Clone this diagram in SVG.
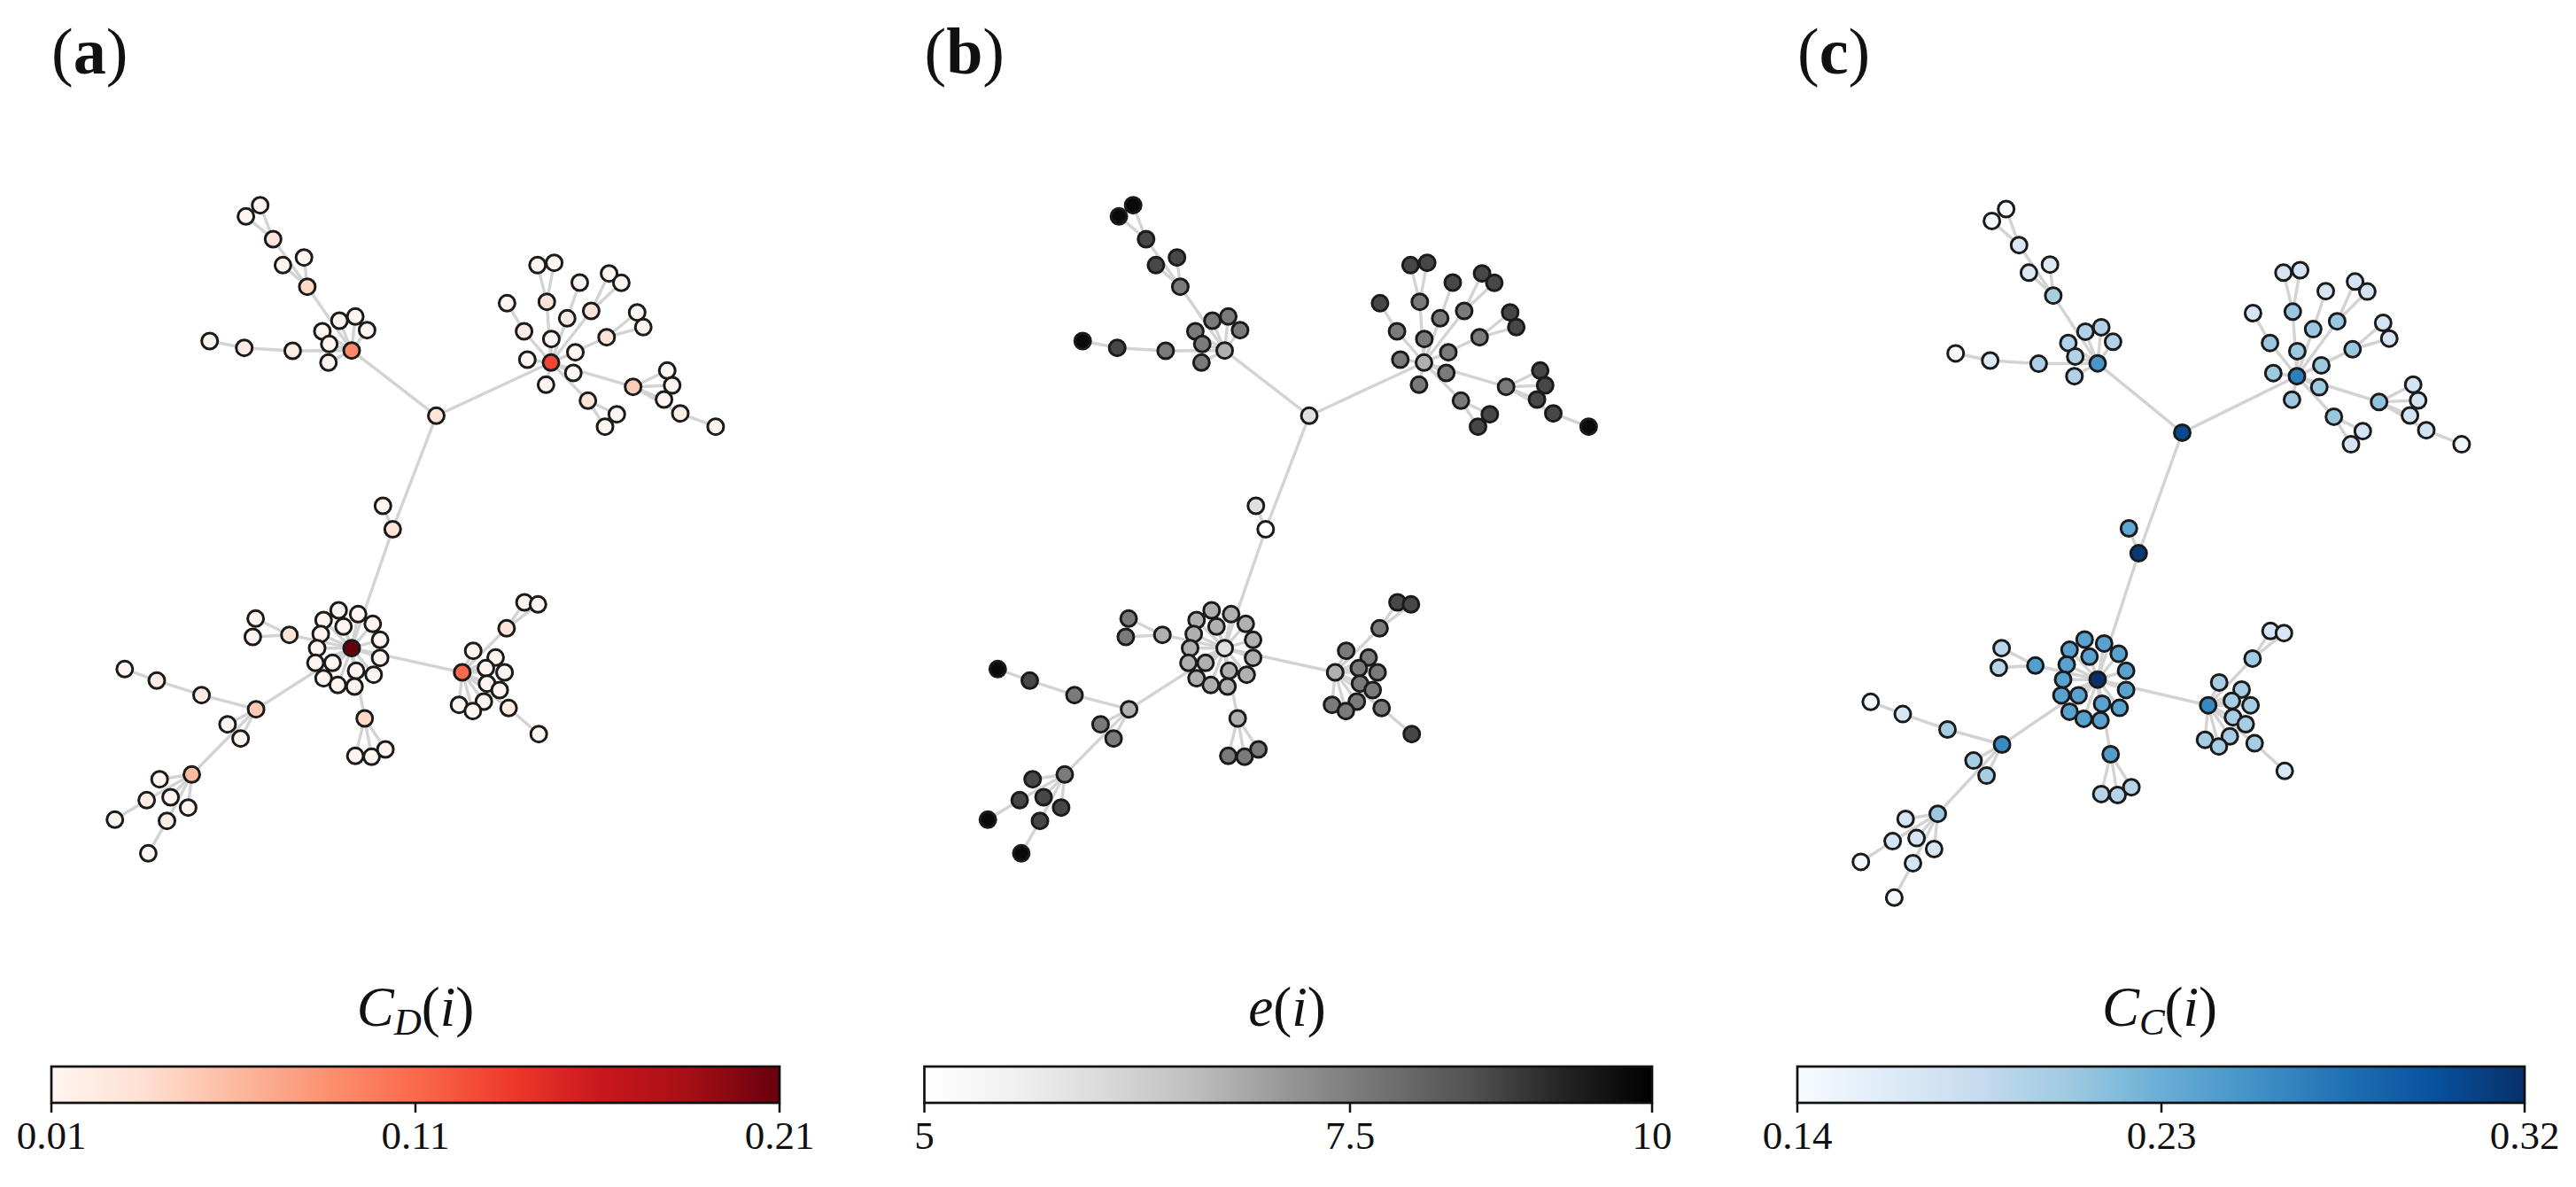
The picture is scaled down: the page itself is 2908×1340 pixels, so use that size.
<svg xmlns="http://www.w3.org/2000/svg" xmlns:xlink="http://www.w3.org/1999/xlink" width="2908" height="1340" viewBox="0 0 2908 1340">
<style>
.e line{stroke:#d3d3d3;stroke-width:3.4;stroke-linecap:round}
.nodes circle{stroke:#1a1a1a;stroke-width:3}
.t{font-family:"Liberation Serif","DejaVu Serif",serif;font-size:74px;fill:#111}
.lab{font-family:"Liberation Serif","DejaVu Serif",serif;font-size:63px;fill:#111}
.tk{font-family:"Liberation Serif","DejaVu Serif",serif;font-size:45px;fill:#111;text-anchor:middle}
.cb{stroke:#111;stroke-width:2.7}
.tick{stroke:#111;stroke-width:2.5;fill:none}
.r1{fill:#fff5f0}.r2{fill:#feede4}.r3{fill:#fee4d8}.r4{fill:#fed9c8}.r5{fill:#fdcab5}.r6{fill:#fcbba1}.r9{fill:#fc8a6a}.r11{fill:#fb6a4a}.r13{fill:#f14432}.r21{fill:#67000d}
.g5{fill:#ffffff}.g6{fill:#e0e0e0}.g7{fill:#b0b0b0}.g8{fill:#7a7a7a}.g9{fill:#474747}.g10{fill:#0a0a0a}
</style>
<defs>
<linearGradient id="gR" x1="0" y1="0" x2="1" y2="0">
<stop offset="0" stop-color="#fff5f0"/><stop offset=".125" stop-color="#fee0d2"/><stop offset=".25" stop-color="#fcbba1"/><stop offset=".375" stop-color="#fc9272"/><stop offset=".5" stop-color="#fb6a4a"/><stop offset=".625" stop-color="#ef3b2c"/><stop offset=".75" stop-color="#cb181d"/><stop offset=".875" stop-color="#a50f15"/><stop offset="1" stop-color="#67000d"/>
</linearGradient>
<linearGradient id="gG" x1="0" y1="0" x2="1" y2="0">
<stop offset="0" stop-color="#ffffff"/><stop offset=".125" stop-color="#f0f0f0"/><stop offset=".25" stop-color="#d9d9d9"/><stop offset=".375" stop-color="#bdbdbd"/><stop offset=".5" stop-color="#969696"/><stop offset=".625" stop-color="#737373"/><stop offset=".75" stop-color="#525252"/><stop offset=".875" stop-color="#252525"/><stop offset="1" stop-color="#000000"/>
</linearGradient>
<linearGradient id="gB" x1="0" y1="0" x2="1" y2="0">
<stop offset="0" stop-color="#f7fbff"/><stop offset=".125" stop-color="#deebf7"/><stop offset=".25" stop-color="#c6dbef"/><stop offset=".375" stop-color="#9ecae1"/><stop offset=".5" stop-color="#6baed6"/><stop offset=".625" stop-color="#4292c6"/><stop offset=".75" stop-color="#2171b5"/><stop offset=".875" stop-color="#08519c"/><stop offset="1" stop-color="#08306b"/>
</linearGradient>
</defs>
<rect width="2908" height="1340" fill="#ffffff"/>

<!-- connectors panel a -->
<g id="edges-a" class="e">
<line x1="443.3" y1="597.5" x2="492.5" y2="469.3"/>
<line x1="443.3" y1="597.5" x2="432.3" y2="571"/>
<line x1="443.3" y1="597.5" x2="397" y2="731.7"/>
<line x1="492.5" y1="469.3" x2="397" y2="395.7"/>
<line x1="492.5" y1="469.3" x2="622" y2="409.3"/>
<line x1="397" y1="395.7" x2="346.9" y2="323.7"/>
<line x1="397" y1="395.7" x2="383.2" y2="362"/>
<line x1="397" y1="395.7" x2="401.1" y2="357.3"/>
<line x1="397" y1="395.7" x2="414.4" y2="372.7"/>
<line x1="397" y1="395.7" x2="363.9" y2="374"/>
<line x1="397" y1="395.7" x2="371.7" y2="388.3"/>
<line x1="397" y1="395.7" x2="370.8" y2="409.3"/>
<line x1="397" y1="395.7" x2="330.4" y2="396"/>
<line x1="346.9" y1="323.7" x2="308.3" y2="270"/>
<line x1="346.9" y1="323.7" x2="343.2" y2="290.7"/>
<line x1="346.9" y1="323.7" x2="319.4" y2="299.3"/>
<line x1="308.3" y1="270" x2="293.7" y2="231.7"/>
<line x1="308.3" y1="270" x2="277.6" y2="244.3"/>
<line x1="330.4" y1="396" x2="275.7" y2="392.7"/>
<line x1="275.7" y1="392.7" x2="236.7" y2="385"/>
<line x1="622" y1="409.3" x2="591.6" y2="374"/>
<line x1="591.6" y1="374" x2="572.4" y2="342.3"/>
<line x1="622" y1="409.3" x2="617.3" y2="340.7"/>
<line x1="617.3" y1="340.7" x2="606.8" y2="299.3"/>
<line x1="617.3" y1="340.7" x2="625.6" y2="296.7"/>
<line x1="622" y1="409.3" x2="622.4" y2="382.7"/>
<line x1="622" y1="409.3" x2="640.3" y2="359.3"/>
<line x1="640.3" y1="359.3" x2="654.5" y2="319"/>
<line x1="622" y1="409.3" x2="667.4" y2="351"/>
<line x1="667.4" y1="351" x2="687.6" y2="308.7"/>
<line x1="667.4" y1="351" x2="701.4" y2="319.3"/>
<line x1="622" y1="409.3" x2="684.8" y2="380.7"/>
<line x1="684.8" y1="380.7" x2="719.3" y2="352.7"/>
<line x1="684.8" y1="380.7" x2="726.2" y2="369.3"/>
<line x1="622" y1="409.3" x2="649.5" y2="397.7"/>
<line x1="622" y1="409.3" x2="595.3" y2="406"/>
<line x1="622" y1="409.3" x2="647.2" y2="421"/>
<line x1="622" y1="409.3" x2="616.4" y2="434.3"/>
<line x1="622" y1="409.3" x2="714.7" y2="436.7"/>
<line x1="714.7" y1="436.7" x2="753.2" y2="418.3"/>
<line x1="714.7" y1="436.7" x2="758.8" y2="435"/>
<line x1="714.7" y1="436.7" x2="749.6" y2="451"/>
<line x1="714.7" y1="436.7" x2="768" y2="466.7"/>
<line x1="768" y1="466.7" x2="807.9" y2="481.7"/>
<line x1="622" y1="409.3" x2="663.7" y2="452.3"/>
<line x1="663.7" y1="452.3" x2="696.3" y2="467.7"/>
<line x1="663.7" y1="452.3" x2="683" y2="481.7"/>
<line x1="397" y1="731.7" x2="382.3" y2="689"/>
<line x1="397" y1="731.7" x2="404.3" y2="693.3"/>
<line x1="397" y1="731.7" x2="365.3" y2="700"/>
<line x1="397" y1="731.7" x2="420.8" y2="704.3"/>
<line x1="397" y1="731.7" x2="387.8" y2="707.3"/>
<line x1="397" y1="731.7" x2="362.1" y2="715.7"/>
<line x1="397" y1="731.7" x2="429.1" y2="722.3"/>
<line x1="397" y1="731.7" x2="358" y2="731.7"/>
<line x1="397" y1="731.7" x2="429.1" y2="742.7"/>
<line x1="397" y1="731.7" x2="356.1" y2="748.3"/>
<line x1="397" y1="731.7" x2="375.4" y2="748.3"/>
<line x1="397" y1="731.7" x2="402" y2="757.3"/>
<line x1="397" y1="731.7" x2="421.8" y2="761.7"/>
<line x1="397" y1="731.7" x2="365.3" y2="765.7"/>
<line x1="397" y1="731.7" x2="381.3" y2="773.3"/>
<line x1="397" y1="731.7" x2="400.2" y2="775"/>
<line x1="397" y1="731.7" x2="326.7" y2="716.7"/>
<line x1="326.7" y1="716.7" x2="288.6" y2="698.3"/>
<line x1="326.7" y1="716.7" x2="285.4" y2="719"/>
<line x1="397" y1="731.7" x2="411.7" y2="811"/>
<line x1="411.7" y1="811" x2="401.1" y2="853.3"/>
<line x1="411.7" y1="811" x2="419.5" y2="854.3"/>
<line x1="411.7" y1="811" x2="435.1" y2="846"/>
<line x1="397" y1="731.7" x2="289.1" y2="800.7"/>
<line x1="289.1" y1="800.7" x2="227.5" y2="784.7"/>
<line x1="227.5" y1="784.7" x2="177" y2="768.3"/>
<line x1="177" y1="768.3" x2="140.8" y2="755.3"/>
<line x1="289.1" y1="800.7" x2="256.9" y2="817.7"/>
<line x1="289.1" y1="800.7" x2="271.6" y2="833.7"/>
<line x1="289.1" y1="800.7" x2="216.5" y2="874.3"/>
<line x1="216.5" y1="874.3" x2="180.2" y2="879.7"/>
<line x1="216.5" y1="874.3" x2="165.6" y2="903.3"/>
<line x1="216.5" y1="874.3" x2="192.6" y2="900"/>
<line x1="216.5" y1="874.3" x2="212.4" y2="911.7"/>
<line x1="216.5" y1="874.3" x2="188.5" y2="926.7"/>
<line x1="165.6" y1="903.3" x2="129.7" y2="925.3"/>
<line x1="188.5" y1="926.7" x2="167.4" y2="963.3"/>
<line x1="397" y1="731.7" x2="521.8" y2="759"/>
<line x1="521.8" y1="759" x2="571.9" y2="709.3"/>
<line x1="571.9" y1="709.3" x2="592.1" y2="680"/>
<line x1="571.9" y1="709.3" x2="607.3" y2="682.3"/>
<line x1="521.8" y1="759" x2="534.2" y2="734.7"/>
<line x1="521.8" y1="759" x2="559.5" y2="742.3"/>
<line x1="521.8" y1="759" x2="548.5" y2="754.3"/>
<line x1="521.8" y1="759" x2="569.6" y2="759"/>
<line x1="521.8" y1="759" x2="549.8" y2="771.7"/>
<line x1="521.8" y1="759" x2="564.1" y2="779"/>
<line x1="521.8" y1="759" x2="546.2" y2="792"/>
<line x1="521.8" y1="759" x2="518.2" y2="795.7"/>
<line x1="521.8" y1="759" x2="533.8" y2="802.7"/>
<line x1="521.8" y1="759" x2="574.2" y2="799.3"/>
<line x1="574.2" y1="799.3" x2="608.2" y2="828.7"/>
</g>
<g id="edges-b"><use xlink:href="#edges-a" href="#edges-a" transform="translate(985.5,0)"/></g>
<g id="edges-c"><use xlink:href="#edges-a" href="#edges-a" transform="translate(1971,-10.2) scale(1,1.0625)"/></g>

<!-- nodes panel a -->
<g class="nodes">
<g id="a1"><circle cx="293.7" cy="231.7" r="9" class="r1"/></g>
<g id="a2"><circle cx="277.6" cy="244.3" r="9" class="r1"/></g>
<g id="a3"><circle cx="308.3" cy="270" r="9" class="r3"/></g>
<g id="a4"><circle cx="343.2" cy="290.7" r="9" class="r1"/></g>
<g id="a5"><circle cx="319.4" cy="299.3" r="9" class="r1"/></g>
<g id="a6"><circle cx="346.9" cy="323.7" r="9" class="r4"/></g>
<g id="a7"><circle cx="383.2" cy="362" r="9" class="r1"/></g>
<g id="a8"><circle cx="401.1" cy="357.3" r="9" class="r1"/></g>
<g id="a9"><circle cx="414.4" cy="372.7" r="9" class="r1"/></g>
<g id="a10"><circle cx="363.9" cy="374" r="9" class="r1"/></g>
<g id="a11"><circle cx="371.7" cy="388.3" r="9" class="r1"/></g>
<g id="a12"><circle cx="397" cy="395.7" r="9" class="r9"/></g>
<g id="a13"><circle cx="370.8" cy="409.3" r="9" class="r1"/></g>
<g id="a14"><circle cx="330.4" cy="396" r="9" class="r2"/></g>
<g id="a15"><circle cx="275.7" cy="392.7" r="9" class="r2"/></g>
<g id="a16"><circle cx="236.7" cy="385" r="9" class="r1"/></g>
<g id="a17"><circle cx="492.5" cy="469.3" r="9" class="r3"/></g>
<g id="a18"><circle cx="432.3" cy="571" r="9" class="r1"/></g>
<g id="a19"><circle cx="443.3" cy="597.5" r="9" class="r3"/></g>
<g id="a20"><circle cx="622" cy="409.3" r="9" class="r13"/></g>
<g id="a21"><circle cx="572.4" cy="342.3" r="9" class="r1"/></g>
<g id="a22"><circle cx="606.8" cy="299.3" r="9" class="r1"/></g>
<g id="a23"><circle cx="625.6" cy="296.7" r="9" class="r1"/></g>
<g id="a24"><circle cx="654.5" cy="319" r="9" class="r1"/></g>
<g id="a25"><circle cx="687.6" cy="308.7" r="9" class="r1"/></g>
<g id="a26"><circle cx="701.4" cy="319.3" r="9" class="r1"/></g>
<g id="a27"><circle cx="617.3" cy="340.7" r="9" class="r3"/></g>
<g id="a28"><circle cx="640.3" cy="359.3" r="9" class="r2"/></g>
<g id="a29"><circle cx="667.4" cy="351" r="9" class="r3"/></g>
<g id="a30"><circle cx="719.3" cy="352.7" r="9" class="r1"/></g>
<g id="a31"><circle cx="726.2" cy="369.3" r="9" class="r1"/></g>
<g id="a32"><circle cx="591.6" cy="374" r="9" class="r2"/></g>
<g id="a33"><circle cx="622.4" cy="382.7" r="9" class="r1"/></g>
<g id="a34"><circle cx="684.8" cy="380.7" r="9" class="r3"/></g>
<g id="a35"><circle cx="649.5" cy="397.7" r="9" class="r1"/></g>
<g id="a36"><circle cx="595.3" cy="406" r="9" class="r1"/></g>
<g id="a37"><circle cx="647.2" cy="421" r="9" class="r1"/></g>
<g id="a38"><circle cx="616.4" cy="434.3" r="9" class="r1"/></g>
<g id="a39"><circle cx="714.7" cy="436.7" r="9" class="r5"/></g>
<g id="a40"><circle cx="753.2" cy="418.3" r="9" class="r1"/></g>
<g id="a41"><circle cx="758.8" cy="435" r="9" class="r1"/></g>
<g id="a42"><circle cx="749.6" cy="451" r="9" class="r1"/></g>
<g id="a43"><circle cx="768" cy="466.7" r="9" class="r2"/></g>
<g id="a44"><circle cx="807.9" cy="481.7" r="9" class="r1"/></g>
<g id="a45"><circle cx="663.7" cy="452.3" r="9" class="r3"/></g>
<g id="a46"><circle cx="696.3" cy="467.7" r="9" class="r1"/></g>
<g id="a47"><circle cx="683" cy="481.7" r="9" class="r1"/></g>
<g id="a48"><circle cx="397" cy="731.7" r="9" class="r21"/></g>
<g id="a49"><circle cx="382.3" cy="689" r="9" class="r1"/></g>
<g id="a50"><circle cx="404.3" cy="693.3" r="9" class="r1"/></g>
<g id="a51"><circle cx="365.3" cy="700" r="9" class="r1"/></g>
<g id="a52"><circle cx="420.8" cy="704.3" r="9" class="r1"/></g>
<g id="a53"><circle cx="387.8" cy="707.3" r="9" class="r1"/></g>
<g id="a54"><circle cx="362.1" cy="715.7" r="9" class="r1"/></g>
<g id="a55"><circle cx="429.1" cy="722.3" r="9" class="r1"/></g>
<g id="a56"><circle cx="358" cy="731.7" r="9" class="r1"/></g>
<g id="a57"><circle cx="429.1" cy="742.7" r="9" class="r1"/></g>
<g id="a58"><circle cx="356.1" cy="748.3" r="9" class="r1"/></g>
<g id="a59"><circle cx="375.4" cy="748.3" r="9" class="r1"/></g>
<g id="a60"><circle cx="402" cy="757.3" r="9" class="r1"/></g>
<g id="a61"><circle cx="421.8" cy="761.7" r="9" class="r1"/></g>
<g id="a62"><circle cx="365.3" cy="765.7" r="9" class="r1"/></g>
<g id="a63"><circle cx="381.3" cy="773.3" r="9" class="r1"/></g>
<g id="a64"><circle cx="400.2" cy="775" r="9" class="r1"/></g>
<g id="a65"><circle cx="288.6" cy="698.3" r="9" class="r1"/></g>
<g id="a66"><circle cx="285.4" cy="719" r="9" class="r1"/></g>
<g id="a67"><circle cx="326.7" cy="716.7" r="9" class="r3"/></g>
<g id="a68"><circle cx="411.7" cy="811" r="9" class="r4"/></g>
<g id="a69"><circle cx="401.1" cy="853.3" r="9" class="r1"/></g>
<g id="a70"><circle cx="419.5" cy="854.3" r="9" class="r1"/></g>
<g id="a71"><circle cx="435.1" cy="846" r="9" class="r1"/></g>
<g id="a72"><circle cx="289.1" cy="800.7" r="9" class="r5"/></g>
<g id="a73"><circle cx="227.5" cy="784.7" r="9" class="r2"/></g>
<g id="a74"><circle cx="177" cy="768.3" r="9" class="r2"/></g>
<g id="a75"><circle cx="140.8" cy="755.3" r="9" class="r1"/></g>
<g id="a76"><circle cx="256.9" cy="817.7" r="9" class="r1"/></g>
<g id="a77"><circle cx="271.6" cy="833.7" r="9" class="r1"/></g>
<g id="a78"><circle cx="216.5" cy="874.3" r="9" class="r6"/></g>
<g id="a79"><circle cx="180.2" cy="879.7" r="9" class="r1"/></g>
<g id="a80"><circle cx="165.6" cy="903.3" r="9" class="r2"/></g>
<g id="a81"><circle cx="192.6" cy="900" r="9" class="r1"/></g>
<g id="a82"><circle cx="212.4" cy="911.7" r="9" class="r1"/></g>
<g id="a83"><circle cx="188.5" cy="926.7" r="9" class="r2"/></g>
<g id="a84"><circle cx="129.7" cy="925.3" r="9" class="r1"/></g>
<g id="a85"><circle cx="167.4" cy="963.3" r="9" class="r1"/></g>
<g id="a86"><circle cx="521.8" cy="759" r="9" class="r11"/></g>
<g id="a87"><circle cx="592.1" cy="680" r="9" class="r1"/></g>
<g id="a88"><circle cx="607.3" cy="682.3" r="9" class="r1"/></g>
<g id="a89"><circle cx="571.9" cy="709.3" r="9" class="r3"/></g>
<g id="a90"><circle cx="534.2" cy="734.7" r="9" class="r1"/></g>
<g id="a91"><circle cx="559.5" cy="742.3" r="9" class="r1"/></g>
<g id="a92"><circle cx="548.5" cy="754.3" r="9" class="r1"/></g>
<g id="a93"><circle cx="569.6" cy="759" r="9" class="r1"/></g>
<g id="a94"><circle cx="549.8" cy="771.7" r="9" class="r1"/></g>
<g id="a95"><circle cx="564.1" cy="779" r="9" class="r1"/></g>
<g id="a96"><circle cx="546.2" cy="792" r="9" class="r1"/></g>
<g id="a97"><circle cx="518.2" cy="795.7" r="9" class="r1"/></g>
<g id="a98"><circle cx="533.8" cy="802.7" r="9" class="r1"/></g>
<g id="a99"><circle cx="574.2" cy="799.3" r="9" class="r2"/></g>
<g id="a100"><circle cx="608.2" cy="828.7" r="9" class="r1"/></g>
</g>

<!-- nodes panel b -->
<g class="nodes">
<g id="b1"><circle cx="1279.2" cy="231.7" r="9" class="g10"/></g>
<g id="b2"><circle cx="1263.1" cy="244.3" r="9" class="g10"/></g>
<g id="b3"><circle cx="1293.8" cy="270" r="9" class="g9"/></g>
<g id="b4"><circle cx="1328.7" cy="290.7" r="9" class="g9"/></g>
<g id="b5"><circle cx="1304.9" cy="299.3" r="9" class="g9"/></g>
<g id="b6"><circle cx="1332.4" cy="323.7" r="9" class="g8"/></g>
<g id="b7"><circle cx="1368.7" cy="362" r="9" class="g8"/></g>
<g id="b8"><circle cx="1386.6" cy="357.3" r="9" class="g8"/></g>
<g id="b9"><circle cx="1399.9" cy="372.7" r="9" class="g8"/></g>
<g id="b10"><circle cx="1349.4" cy="374" r="9" class="g8"/></g>
<g id="b11"><circle cx="1357.2" cy="388.3" r="9" class="g8"/></g>
<g id="b12"><circle cx="1382.5" cy="395.7" r="9" class="g7"/></g>
<g id="b13"><circle cx="1356.3" cy="409.3" r="9" class="g8"/></g>
<g id="b14"><circle cx="1315.9" cy="396" r="9" class="g8"/></g>
<g id="b15"><circle cx="1261.2" cy="392.7" r="9" class="g9"/></g>
<g id="b16"><circle cx="1222.2" cy="385" r="9" class="g10"/></g>
<g id="b17"><circle cx="1478" cy="469.3" r="9" class="g6"/></g>
<g id="b18"><circle cx="1417.8" cy="571" r="9" class="g6"/></g>
<g id="b19"><circle cx="1428.8" cy="597.5" r="9" class="g5"/></g>
<g id="b20"><circle cx="1607.5" cy="409.3" r="9" class="g7"/></g>
<g id="b21"><circle cx="1557.9" cy="342.3" r="9" class="g9"/></g>
<g id="b22"><circle cx="1592.3" cy="299.3" r="9" class="g9"/></g>
<g id="b23"><circle cx="1611.1" cy="296.7" r="9" class="g9"/></g>
<g id="b24"><circle cx="1640" cy="319" r="9" class="g9"/></g>
<g id="b25"><circle cx="1673.1" cy="308.7" r="9" class="g9"/></g>
<g id="b26"><circle cx="1686.9" cy="319.3" r="9" class="g9"/></g>
<g id="b27"><circle cx="1602.8" cy="340.7" r="9" class="g8"/></g>
<g id="b28"><circle cx="1625.8" cy="359.3" r="9" class="g8"/></g>
<g id="b29"><circle cx="1652.9" cy="351" r="9" class="g8"/></g>
<g id="b30"><circle cx="1704.8" cy="352.7" r="9" class="g9"/></g>
<g id="b31"><circle cx="1711.7" cy="369.3" r="9" class="g9"/></g>
<g id="b32"><circle cx="1577.1" cy="374" r="9" class="g8"/></g>
<g id="b33"><circle cx="1607.9" cy="382.7" r="9" class="g8"/></g>
<g id="b34"><circle cx="1670.3" cy="380.7" r="9" class="g8"/></g>
<g id="b35"><circle cx="1635" cy="397.7" r="9" class="g8"/></g>
<g id="b36"><circle cx="1580.8" cy="406" r="9" class="g8"/></g>
<g id="b37"><circle cx="1632.7" cy="421" r="9" class="g8"/></g>
<g id="b38"><circle cx="1601.9" cy="434.3" r="9" class="g8"/></g>
<g id="b39"><circle cx="1700.2" cy="436.7" r="9" class="g8"/></g>
<g id="b40"><circle cx="1738.7" cy="418.3" r="9" class="g9"/></g>
<g id="b41"><circle cx="1744.3" cy="435" r="9" class="g9"/></g>
<g id="b42"><circle cx="1735.1" cy="451" r="9" class="g9"/></g>
<g id="b43"><circle cx="1753.5" cy="466.7" r="9" class="g9"/></g>
<g id="b44"><circle cx="1793.4" cy="481.7" r="9" class="g10"/></g>
<g id="b45"><circle cx="1649.2" cy="452.3" r="9" class="g8"/></g>
<g id="b46"><circle cx="1681.8" cy="467.7" r="9" class="g9"/></g>
<g id="b47"><circle cx="1668.5" cy="481.7" r="9" class="g9"/></g>
<g id="b48"><circle cx="1382.5" cy="731.7" r="9" class="g6"/></g>
<g id="b49"><circle cx="1367.8" cy="689" r="9" class="g7"/></g>
<g id="b50"><circle cx="1389.8" cy="693.3" r="9" class="g7"/></g>
<g id="b51"><circle cx="1350.8" cy="700" r="9" class="g7"/></g>
<g id="b52"><circle cx="1406.3" cy="704.3" r="9" class="g7"/></g>
<g id="b53"><circle cx="1373.3" cy="707.3" r="9" class="g7"/></g>
<g id="b54"><circle cx="1347.6" cy="715.7" r="9" class="g7"/></g>
<g id="b55"><circle cx="1414.6" cy="722.3" r="9" class="g7"/></g>
<g id="b56"><circle cx="1343.5" cy="731.7" r="9" class="g7"/></g>
<g id="b57"><circle cx="1414.6" cy="742.7" r="9" class="g7"/></g>
<g id="b58"><circle cx="1341.6" cy="748.3" r="9" class="g7"/></g>
<g id="b59"><circle cx="1360.9" cy="748.3" r="9" class="g7"/></g>
<g id="b60"><circle cx="1387.5" cy="757.3" r="9" class="g7"/></g>
<g id="b61"><circle cx="1407.3" cy="761.7" r="9" class="g7"/></g>
<g id="b62"><circle cx="1350.8" cy="765.7" r="9" class="g7"/></g>
<g id="b63"><circle cx="1366.8" cy="773.3" r="9" class="g7"/></g>
<g id="b64"><circle cx="1385.7" cy="775" r="9" class="g7"/></g>
<g id="b65"><circle cx="1274.1" cy="698.3" r="9" class="g8"/></g>
<g id="b66"><circle cx="1270.9" cy="719" r="9" class="g8"/></g>
<g id="b67"><circle cx="1312.2" cy="716.7" r="9" class="g7"/></g>
<g id="b68"><circle cx="1397.2" cy="811" r="9" class="g7"/></g>
<g id="b69"><circle cx="1386.6" cy="853.3" r="9" class="g8"/></g>
<g id="b70"><circle cx="1405" cy="854.3" r="9" class="g8"/></g>
<g id="b71"><circle cx="1420.6" cy="846" r="9" class="g8"/></g>
<g id="b72"><circle cx="1274.6" cy="800.7" r="9" class="g7"/></g>
<g id="b73"><circle cx="1213" cy="784.7" r="9" class="g8"/></g>
<g id="b74"><circle cx="1162.5" cy="768.3" r="9" class="g9"/></g>
<g id="b75"><circle cx="1126.3" cy="755.3" r="9" class="g10"/></g>
<g id="b76"><circle cx="1242.4" cy="817.7" r="9" class="g8"/></g>
<g id="b77"><circle cx="1257.1" cy="833.7" r="9" class="g8"/></g>
<g id="b78"><circle cx="1202" cy="874.3" r="9" class="g8"/></g>
<g id="b79"><circle cx="1165.7" cy="879.7" r="9" class="g9"/></g>
<g id="b80"><circle cx="1151.1" cy="903.3" r="9" class="g9"/></g>
<g id="b81"><circle cx="1178.1" cy="900" r="9" class="g9"/></g>
<g id="b82"><circle cx="1197.9" cy="911.7" r="9" class="g9"/></g>
<g id="b83"><circle cx="1174" cy="926.7" r="9" class="g9"/></g>
<g id="b84"><circle cx="1115.2" cy="925.3" r="9" class="g10"/></g>
<g id="b85"><circle cx="1152.9" cy="963.3" r="9" class="g10"/></g>
<g id="b86"><circle cx="1507.3" cy="759" r="9" class="g7"/></g>
<g id="b87"><circle cx="1577.6" cy="680" r="9" class="g9"/></g>
<g id="b88"><circle cx="1592.8" cy="682.3" r="9" class="g9"/></g>
<g id="b89"><circle cx="1557.4" cy="709.3" r="9" class="g8"/></g>
<g id="b90"><circle cx="1519.7" cy="734.7" r="9" class="g8"/></g>
<g id="b91"><circle cx="1545" cy="742.3" r="9" class="g8"/></g>
<g id="b92"><circle cx="1534" cy="754.3" r="9" class="g8"/></g>
<g id="b93"><circle cx="1555.1" cy="759" r="9" class="g8"/></g>
<g id="b94"><circle cx="1535.3" cy="771.7" r="9" class="g8"/></g>
<g id="b95"><circle cx="1549.6" cy="779" r="9" class="g8"/></g>
<g id="b96"><circle cx="1531.7" cy="792" r="9" class="g8"/></g>
<g id="b97"><circle cx="1503.7" cy="795.7" r="9" class="g8"/></g>
<g id="b98"><circle cx="1519.3" cy="802.7" r="9" class="g8"/></g>
<g id="b99"><circle cx="1559.7" cy="799.3" r="9" class="g8"/></g>
<g id="b100"><circle cx="1593.7" cy="828.7" r="9" class="g9"/></g>
</g>

<!-- nodes panel c -->
<g class="nodes">
<g id="c1"><circle cx="2264.7" cy="236" r="9" fill="#f5fafe"/></g>
<g id="c2"><circle cx="2248.6" cy="249.4" r="9" fill="#f5fafe"/></g>
<g id="c3"><circle cx="2279.3" cy="276.7" r="9" fill="#d9e7f5"/></g>
<g id="c4"><circle cx="2314.2" cy="298.7" r="9" fill="#dbe9f6"/></g>
<g id="c5"><circle cx="2290.4" cy="307.8" r="9" fill="#dbe9f6"/></g>
<g id="c6"><circle cx="2317.9" cy="333.7" r="9" fill="#a8cee4"/></g>
<g id="c7"><circle cx="2354.2" cy="374.4" r="9" fill="#b0d1e7"/></g>
<g id="c8"><circle cx="2372.1" cy="369.4" r="9" fill="#b0d1e7"/></g>
<g id="c9"><circle cx="2385.4" cy="385.8" r="9" fill="#b0d1e7"/></g>
<g id="c10"><circle cx="2334.9" cy="387.2" r="9" fill="#b0d1e7"/></g>
<g id="c11"><circle cx="2342.7" cy="402.4" r="9" fill="#b0d1e7"/></g>
<g id="c12"><circle cx="2368" cy="410.2" r="9" fill="#4896c8"/></g>
<g id="c13"><circle cx="2341.8" cy="424.7" r="9" fill="#b0d1e7"/></g>
<g id="c14"><circle cx="2301.4" cy="410.6" r="9" fill="#add0e6"/></g>
<g id="c15"><circle cx="2246.7" cy="407" r="9" fill="#dce9f6"/></g>
<g id="c16"><circle cx="2207.7" cy="398.9" r="9" fill="#f7fbff"/></g>
<g id="c17"><circle cx="2463.5" cy="488.4" r="9" fill="#084990"/></g>
<g id="c18"><circle cx="2403.3" cy="596.5" r="9" fill="#5fa6d1"/></g>
<g id="c19"><circle cx="2414.3" cy="624.6" r="9" fill="#083a7a"/></g>
<g id="c20"><circle cx="2593" cy="424.7" r="9" fill="#2e7ebc"/></g>
<g id="c21"><circle cx="2543.4" cy="353.5" r="9" fill="#d5e5f4"/></g>
<g id="c22"><circle cx="2577.8" cy="307.8" r="9" fill="#d4e4f4"/></g>
<g id="c23"><circle cx="2596.6" cy="305" r="9" fill="#d4e4f4"/></g>
<g id="c24"><circle cx="2625.5" cy="328.7" r="9" fill="#d5e5f4"/></g>
<g id="c25"><circle cx="2658.6" cy="317.8" r="9" fill="#d4e4f4"/></g>
<g id="c26"><circle cx="2672.4" cy="329.1" r="9" fill="#d4e4f4"/></g>
<g id="c27"><circle cx="2588.3" cy="351.8" r="9" fill="#99c7e0"/></g>
<g id="c28"><circle cx="2611.3" cy="371.6" r="9" fill="#9bc8e0"/></g>
<g id="c29"><circle cx="2638.4" cy="362.7" r="9" fill="#99c7e0"/></g>
<g id="c30"><circle cx="2690.3" cy="364.5" r="9" fill="#d4e4f4"/></g>
<g id="c31"><circle cx="2697.2" cy="382.2" r="9" fill="#d4e4f4"/></g>
<g id="c32"><circle cx="2562.6" cy="387.2" r="9" fill="#9bc8e0"/></g>
<g id="c33"><circle cx="2593.4" cy="396.4" r="9" fill="#9dc9e1"/></g>
<g id="c34"><circle cx="2655.8" cy="394.3" r="9" fill="#99c7e0"/></g>
<g id="c35"><circle cx="2620.5" cy="412.4" r="9" fill="#9dc9e1"/></g>
<g id="c36"><circle cx="2566.3" cy="421.2" r="9" fill="#9dc9e1"/></g>
<g id="c37"><circle cx="2618.2" cy="437.1" r="9" fill="#9dc9e1"/></g>
<g id="c38"><circle cx="2587.4" cy="451.2" r="9" fill="#9dc9e1"/></g>
<g id="c39"><circle cx="2685.7" cy="453.8" r="9" fill="#92c3de"/></g>
<g id="c40"><circle cx="2724.2" cy="434.2" r="9" fill="#d2e3f3"/></g>
<g id="c41"><circle cx="2729.8" cy="452" r="9" fill="#d2e3f3"/></g>
<g id="c42"><circle cx="2720.6" cy="469" r="9" fill="#d2e3f3"/></g>
<g id="c43"><circle cx="2739" cy="485.7" r="9" fill="#d1e2f3"/></g>
<g id="c44"><circle cx="2778.9" cy="501.6" r="9" fill="#eff6fd"/></g>
<g id="c45"><circle cx="2634.7" cy="470.4" r="9" fill="#99c7e0"/></g>
<g id="c46"><circle cx="2667.3" cy="486.7" r="9" fill="#d4e4f4"/></g>
<g id="c47"><circle cx="2654" cy="501.6" r="9" fill="#d4e4f4"/></g>
<g id="c48"><circle cx="2368" cy="767.2" r="9" fill="#08306b"/></g>
<g id="c49"><circle cx="2353.3" cy="721.9" r="9" fill="#59a2cf"/></g>
<g id="c50"><circle cx="2375.3" cy="726.4" r="9" fill="#59a2cf"/></g>
<g id="c51"><circle cx="2336.3" cy="733.6" r="9" fill="#59a2cf"/></g>
<g id="c52"><circle cx="2391.8" cy="738.1" r="9" fill="#59a2cf"/></g>
<g id="c53"><circle cx="2358.8" cy="741.3" r="9" fill="#59a2cf"/></g>
<g id="c54"><circle cx="2333.1" cy="750.2" r="9" fill="#59a2cf"/></g>
<g id="c55"><circle cx="2400.1" cy="757.2" r="9" fill="#59a2cf"/></g>
<g id="c56"><circle cx="2329" cy="767.2" r="9" fill="#59a2cf"/></g>
<g id="c57"><circle cx="2400.1" cy="778.9" r="9" fill="#59a2cf"/></g>
<g id="c58"><circle cx="2327.1" cy="784.9" r="9" fill="#59a2cf"/></g>
<g id="c59"><circle cx="2346.4" cy="784.9" r="9" fill="#59a2cf"/></g>
<g id="c60"><circle cx="2373" cy="794.4" r="9" fill="#59a2cf"/></g>
<g id="c61"><circle cx="2392.8" cy="799.1" r="9" fill="#59a2cf"/></g>
<g id="c62"><circle cx="2336.3" cy="803.4" r="9" fill="#59a2cf"/></g>
<g id="c63"><circle cx="2352.3" cy="811.4" r="9" fill="#59a2cf"/></g>
<g id="c64"><circle cx="2371.2" cy="813.2" r="9" fill="#59a2cf"/></g>
<g id="c65"><circle cx="2259.6" cy="731.7" r="9" fill="#b7d5e9"/></g>
<g id="c66"><circle cx="2256.4" cy="753.7" r="9" fill="#b7d5e9"/></g>
<g id="c67"><circle cx="2297.7" cy="751.3" r="9" fill="#539ecd"/></g>
<g id="c68"><circle cx="2382.7" cy="851.5" r="9" fill="#529dcc"/></g>
<g id="c69"><circle cx="2372.1" cy="896.4" r="9" fill="#b6d4e9"/></g>
<g id="c70"><circle cx="2390.5" cy="897.5" r="9" fill="#b6d4e9"/></g>
<g id="c71"><circle cx="2406.1" cy="888.7" r="9" fill="#b6d4e9"/></g>
<g id="c72"><circle cx="2260.1" cy="840.5" r="9" fill="#3b8bc3"/></g>
<g id="c73"><circle cx="2198.5" cy="823.5" r="9" fill="#a4cce3"/></g>
<g id="c74"><circle cx="2148" cy="806.1" r="9" fill="#d7e6f5"/></g>
<g id="c75"><circle cx="2111.8" cy="792.3" r="9" fill="#f4f9fe"/></g>
<g id="c76"><circle cx="2227.9" cy="858.6" r="9" fill="#a6cde4"/></g>
<g id="c77"><circle cx="2242.6" cy="875.6" r="9" fill="#a6cde4"/></g>
<g id="c78"><circle cx="2187.5" cy="918.7" r="9" fill="#9bc8e0"/></g>
<g id="c79"><circle cx="2151.2" cy="924.5" r="9" fill="#d5e5f4"/></g>
<g id="c80"><circle cx="2136.6" cy="949.6" r="9" fill="#d4e4f4"/></g>
<g id="c81"><circle cx="2163.6" cy="946.1" r="9" fill="#d5e5f4"/></g>
<g id="c82"><circle cx="2183.4" cy="958.5" r="9" fill="#d5e5f4"/></g>
<g id="c83"><circle cx="2159.5" cy="974.4" r="9" fill="#d4e4f4"/></g>
<g id="c84"><circle cx="2100.7" cy="972.9" r="9" fill="#f2f8fd"/></g>
<g id="c85"><circle cx="2138.4" cy="1013.3" r="9" fill="#f2f8fd"/></g>
<g id="c86"><circle cx="2492.8" cy="796.2" r="9" fill="#3888c1"/></g>
<g id="c87"><circle cx="2563.1" cy="712.3" r="9" fill="#d7e6f5"/></g>
<g id="c88"><circle cx="2578.3" cy="714.7" r="9" fill="#d7e6f5"/></g>
<g id="c89"><circle cx="2542.9" cy="743.4" r="9" fill="#a2cce2"/></g>
<g id="c90"><circle cx="2505.2" cy="770.4" r="9" fill="#a6cde4"/></g>
<g id="c91"><circle cx="2530.5" cy="778.5" r="9" fill="#a6cde4"/></g>
<g id="c92"><circle cx="2519.5" cy="791.2" r="9" fill="#a6cde4"/></g>
<g id="c93"><circle cx="2540.6" cy="796.2" r="9" fill="#a6cde4"/></g>
<g id="c94"><circle cx="2520.8" cy="809.7" r="9" fill="#a6cde4"/></g>
<g id="c95"><circle cx="2535.1" cy="817.5" r="9" fill="#a6cde4"/></g>
<g id="c96"><circle cx="2517.2" cy="831.3" r="9" fill="#a6cde4"/></g>
<g id="c97"><circle cx="2489.2" cy="835.2" r="9" fill="#a6cde4"/></g>
<g id="c98"><circle cx="2504.8" cy="842.7" r="9" fill="#a6cde4"/></g>
<g id="c99"><circle cx="2545.2" cy="839.1" r="9" fill="#a4cce3"/></g>
<g id="c100"><circle cx="2579.2" cy="870.3" r="9" fill="#d8e7f5"/></g>
</g>

<!-- panel titles -->
<text class="t" x="58" y="83">(<tspan font-weight="bold">a</tspan>)</text>
<text class="t" x="1043.5" y="83">(<tspan font-weight="bold">b</tspan>)</text>
<text class="t" x="2029" y="83">(<tspan font-weight="bold">c</tspan>)</text>

<!-- colorbar a -->
<g id="colorbar-a">
<text class="lab" x="469" y="1158" text-anchor="middle"><tspan font-style="italic">C</tspan><tspan font-style="italic" font-size="43" dy="10">D</tspan><tspan dy="-10">(</tspan><tspan font-style="italic">i</tspan>)</text>
<rect x="58" y="1204" width="822" height="41" fill="url(#gR)" class="cb"/>
<path class="tick" d="M58 1245V1256M469 1245V1256M880 1245V1256"/>
<text class="tk" x="58" y="1297">0.01</text>
<text class="tk" x="469" y="1297">0.11</text>
<text class="tk" x="880" y="1297">0.21</text>
</g>
<!-- colorbar b -->
<g id="colorbar-b">
<text class="lab" x="1453" y="1158" text-anchor="middle"><tspan font-style="italic">e</tspan>(<tspan font-style="italic">i</tspan>)</text>
<rect x="1043.5" y="1204" width="821.5" height="41" fill="url(#gG)" class="cb"/>
<path class="tick" d="M1043.5 1245V1256M1524 1245V1256M1865 1245V1256"/>
<text class="tk" x="1043.5" y="1297">5</text>
<text class="tk" x="1524" y="1297">7.5</text>
<text class="tk" x="1865" y="1297">10</text>
</g>
<!-- colorbar c -->
<g id="colorbar-c">
<text class="lab" x="2438" y="1158" text-anchor="middle"><tspan font-style="italic">C</tspan><tspan font-style="italic" font-size="43" dy="10">C</tspan><tspan dy="-10">(</tspan><tspan font-style="italic">i</tspan>)</text>
<rect x="2029" y="1204" width="821" height="41" fill="url(#gB)" class="cb"/>
<path class="tick" d="M2029 1245V1256M2440 1245V1256M2850 1245V1256"/>
<text class="tk" x="2029" y="1297">0.14</text>
<text class="tk" x="2440" y="1297">0.23</text>
<text class="tk" x="2850" y="1297">0.32</text>
</g>
</svg>
